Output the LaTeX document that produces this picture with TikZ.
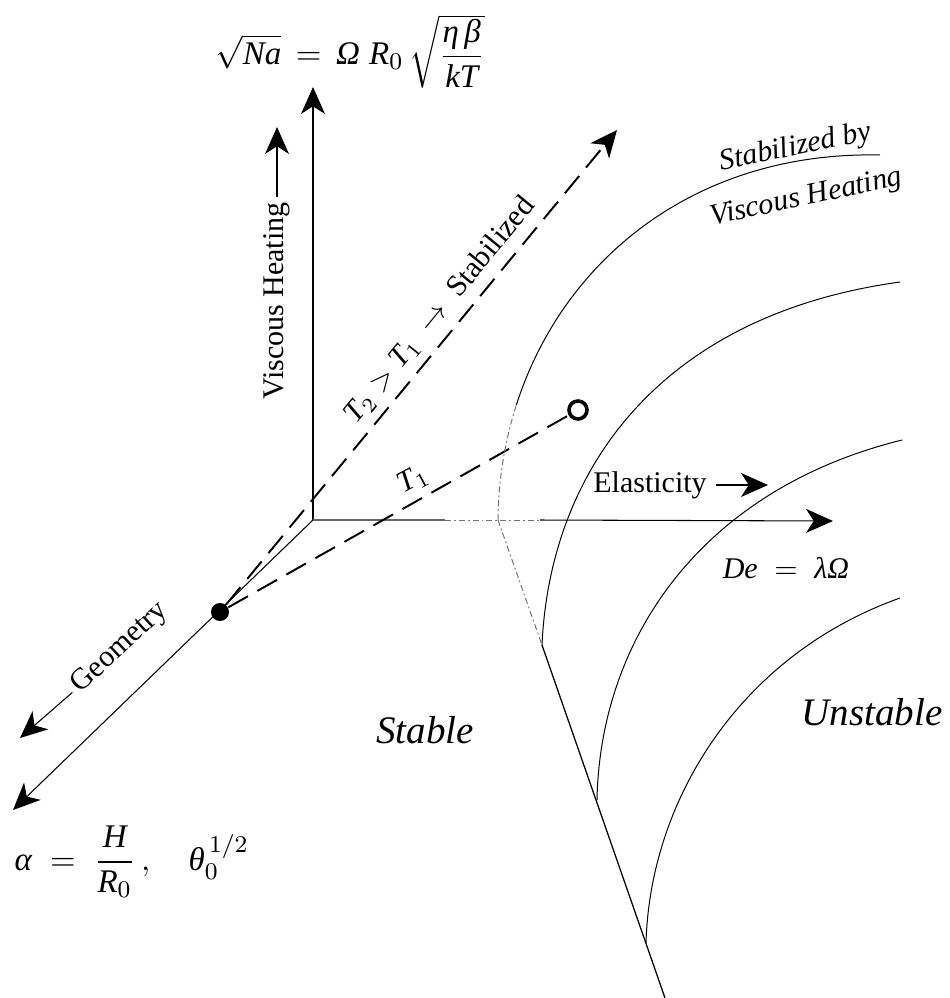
\documentclass[tikz,border=0pt]{standalone}
\usepackage{fontspec}
\setmainfont{Liberation Serif}
\usetikzlibrary{arrows.meta}
\newcommand{\myit}[1]{\mbox{\itshape #1}}
\begin{document}
\begin{tikzpicture}[x=0.3333pt,y=-0.3333pt,
  axis/.style={line width=0.35pt},
  bigtip/.style={-{Stealth[length=9pt,width=8pt,inset=2.6pt]}},
  dsh/.style={line width=0.65pt, dash pattern=on 7.5pt off 3.6pt},
  crv/.style={line width=0.33pt},
  bnd/.style={line width=0.42pt},
  faint/.style={line width=0.33pt, black!55, dash pattern=on 2pt off 1pt on 0.6pt off 1pt},
  lbl/.style={font=\fontsize{10}{12}\selectfont, inner sep=1.5pt},
  ilbl/.style={font=\fontsize{10}{12}\selectfont\itshape, inner sep=0pt},
  biglbl/.style={font=\fontsize{13}{15}\selectfont\itshape, inner sep=0pt},
  mlbl/.style={font=\fontsize{11}{13}\selectfont, inner sep=0pt}]
\useasboundingbox (0,0) rectangle (949,998);

% key points
\coordinate (O) at (313,520);
\coordinate (tipV) at (313,87);
\coordinate (tipH) at (833,521);
\coordinate (tipD) at (13,810);
\coordinate (tipT) at (617,130);
\coordinate (h1) at (445,520);
\coordinate (h2) at (540,520);
\coordinate (A0) at (498,520);
\coordinate (A1) at (516.4,404.8);
\coordinate (A2) at (880,155);
\coordinate (B0) at (542,645);
\coordinate (B1) at (900,282);
\coordinate (C0) at (597,800);
\coordinate (C1) at (902,440);
\coordinate (D0) at (646,943);
\coordinate (D1) at (900,598);
\coordinate (Lend) at (665,998);

% axes
\draw[axis, bigtip] (O) -- (tipV);
\draw[axis, black!60] (O) -- (h1);
\draw[faint] (h1) -- (h2);
\draw[axis, bigtip] (h2) -- (tipH);
\draw[axis, bigtip] (O) -- (tipD);

% markers
\node[circle, fill, minimum size=6pt, inner sep=0pt] (dot) at (220,612) {};
\node[circle, draw, line width=1.2pt, minimum size=6pt, inner sep=0pt, fill=white] (circ) at (578,410) {};

% dashed paths
\draw[dsh, bigtip] (dot) -- (tipT);
\draw[dsh] (dot) -- (circ);

% stability boundaries
\draw[faint] (A0) -- (B0);
\draw[faint] (A0) .. controls (498.4,480) and (504.7,441.2) .. (A1);
\draw[crv] (A1) .. controls (563.2,259) and (696,151) .. (A2);
\draw[crv] (B0) .. controls (550,470) and (660,315) .. (B1);
\draw[crv] (C0) .. controls (600,640) and (700,490) .. (C1);
\draw[crv] (D0) .. controls (650,800) and (740,655) .. (D1);
\draw[bnd] (B0) -- (Lend);

% labels
\node[lbl, rotate=90] (vh) at (277,301) {Viscous Heating};
\coordinate (vhtip) at (277,127);
\draw[axis, bigtip] (vh.east) -- (vhtip);

\node[lbl, rotate=43] (geo) at (120,648) {Geometry};
\coordinate (geotip) at (20,738);
\draw[axis, bigtip] (geo.west) -- (geotip);

\node[lbl, inner sep=3pt] (el) at (650,485) {Elasticity};
\coordinate (eltip) at (768,485);
\draw[axis, bigtip] (el.east) -- (eltip);

\node[lbl] (de) at (786,568) {$\myit{De}\;=\;\myit{λΩ}$};
\node[lbl, rotate=50.6] (t2) at (440,310) {$\myit{T}_2 > \myit{T}_1$\; $\rightarrow$\; Stabilized};
\node[lbl, rotate=28] (t1) at (413,480) {$\myit{T}_1$};

\node[biglbl] (st) at (425,730) {Stable};
\node[biglbl] (un) at (872,712) {Unstable};

\node[ilbl, rotate=11.5, anchor=base] (sb1) at (797,155) {Stabilized by};
\node[ilbl, rotate=12, anchor=base] (sb2) at (808,205) {Viscous Heating};

\node[mlbl, anchor=north] (nf) at (350,14) {$\sqrt{\myit{Na}}\,=\,\myit{Ω}\;\myit{R}_0\,\sqrt{\displaystyle\frac{\myit{η\,β}}{\myit{kT}}}$};
\node[mlbl, anchor=west] (af) at (14,862) {$\myit{α}\;=\;\displaystyle\frac{\myit{H}}{\myit{R}_0}\,,\quad\myit{θ}_0^{\,1/2}$};
\end{tikzpicture}
\end{document}
